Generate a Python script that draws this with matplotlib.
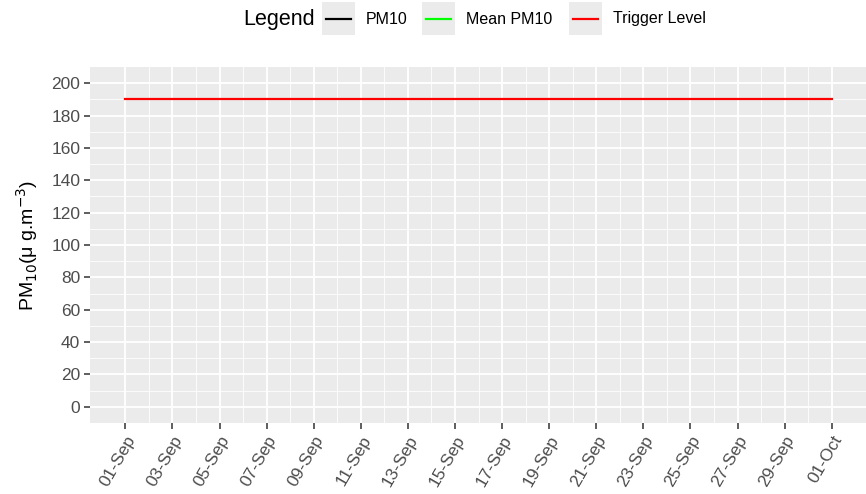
import numpy as np
import pandas as pd
import matplotlib
matplotlib.use("Agg")
import matplotlib.pyplot as plt
import matplotlib.dates as mdates
from matplotlib.patches import Rectangle
from matplotlib.lines import Line2D

plt.rcParams['font.family'] = ['Liberation Sans', 'DejaVu Sans']

# data
dates = pd.date_range("2021-09-01", "2021-10-01", freq="D")
trigger_level = [190] * len(dates)
pm10 = []          # no measurements shown
mean_pm10 = []     # no measurements shown
y_ticks = list(range(0, 201, 20))
legend_labels = ["PM10", "Mean PM10", "Trigger Level"]
legend_colors = ["black", "#00FF00", "red"]

# figure
fig = plt.figure(figsize=(8.66, 4.94), dpi=100)
ax = fig.add_axes([90/866, 71/494, 777/866, 356/494])
ax.set_facecolor("#EBEBEB")
for s in ax.spines.values():
    s.set_visible(False)

ax.plot(dates, trigger_level, color="red", lw=1.6, zorder=3)
ax.plot(dates[:len(pm10)], pm10, color="black", lw=1.6, zorder=3)
ax.plot(dates[:len(mean_pm10)], mean_pm10, color="#00FF00", lw=1.6, zorder=3)

ax.set_xlim(dates[0] - pd.Timedelta(days=1.5), dates[-1] + pd.Timedelta(days=1.5))
ax.set_ylim(-10, 210)

ax.set_yticks(y_ticks)
ax.set_yticks(np.arange(10, 200, 20), minor=True)
ax.set_xticks(dates[::2])
ax.set_xticks(dates[1::2], minor=True)
ax.xaxis.set_major_formatter(mdates.DateFormatter("%d-%b"))

ax.grid(which="major", color="white", lw=1.3)
ax.grid(which="minor", color="white", lw=0.6)
ax.set_axisbelow(True)

ax.tick_params(axis="both", which="major", length=4, width=1.1, color="#333333",
               labelcolor="#4D4D4D", labelsize=12.5, pad=3)
ax.tick_params(axis="both", which="minor", length=0)
plt.setp(ax.get_xticklabels(), rotation=60, ha="right", rotation_mode="anchor")

ax.set_ylabel("PM$_{10}$(μ g.m$^{-3}$)", fontsize=14, labelpad=8)

# legend drawn at top, ggplot-style
fig.text(243/866, 1 - 19/494, "Legend", fontsize=15.5, va="center", ha="left")
key_x = [322, 422, 569]
lab_x = [366, 466, 613]
for kx, lx, lab, col in zip(key_x, lab_x, legend_labels, legend_colors):
    fig.add_artist(Rectangle((kx/866, 1 - 35/494), 33/866, 33/494,
                             transform=fig.transFigure, facecolor="#EBEBEB",
                             edgecolor="none"))
    fig.add_artist(Line2D([(kx + 4)/866, (kx + 29)/866], [1 - 19/494, 1 - 19/494],
                          transform=fig.transFigure, color=col, lw=1.6))
    fig.text(lx/866, 1 - 19/494, lab, fontsize=11.5, va="center", ha="left")

fig.savefig("out.png", dpi=100)
